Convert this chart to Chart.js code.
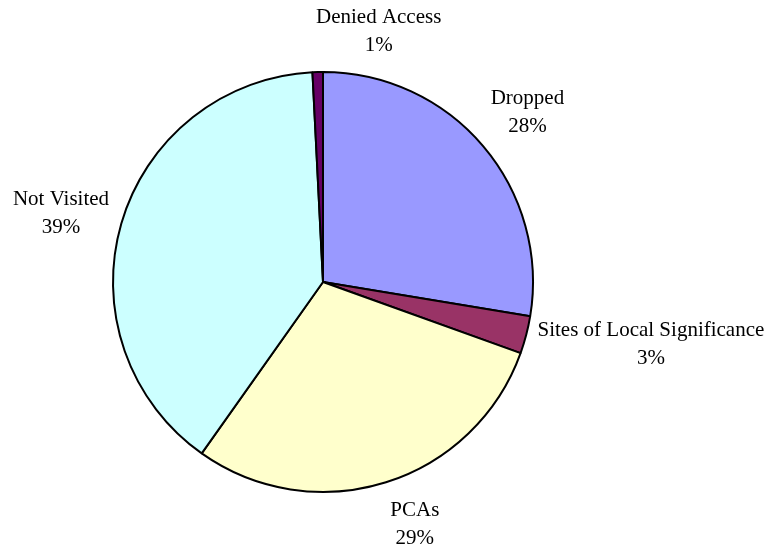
<!DOCTYPE html>
<html>
<head>
<meta charset="utf-8">
<script src="https://cdn.jsdelivr.net/npm/chart.js@4/dist/chart.umd.min.js"></script>
<style>
html,body{margin:0;padding:0;background:#fff;}
canvas{display:block;}
</style>
</head>
<body>
<canvas id="c" width="770" height="544"></canvas>
<script>
const categories = ["Dropped", "Sites of Local Significance", "PCAs", "Not Visited", "Denied Access"];
const shares = [27.6, 2.9, 29.3, 39.4, 0.8];
const sliceColors = ["#9999FF", "#993366", "#FFFFCC", "#CCFFFF", "#660066"];
// label layout nudges (pixels), not data
const labelNudge = [[0, 4], [0, -23], [15, -2], [3, 8], [62, 1]];

const FONT = '21px "Liberation Serif", "Times New Roman", serif';
const LINE_H = 28;

const labelPlugin = {
  id: 'outsideLabels',
  afterDatasetsDraw(chart) {
    const ctx = chart.ctx;
    const meta = chart.getDatasetMeta(0);
    const data = chart.data.datasets[0].data;
    const total = data.reduce((a, b) => a + b, 0);
    ctx.save();
    ctx.font = FONT;
    ctx.fillStyle = '#000';
    ctx.textAlign = 'center';
    ctx.textBaseline = 'middle';
    meta.data.forEach((arc, i) => {
      const p = arc.getProps(['x', 'y', 'startAngle', 'endAngle', 'outerRadius'], true);
      const mid = (p.startAngle + p.endAngle) / 2;
      const dx = Math.cos(mid), dy = Math.sin(mid);
      const l1 = chart.data.labels[i];
      const l2 = Math.round(data[i] / total * 100) + '%';
      const w = Math.max(ctx.measureText(l1).width, ctx.measureText(l2).width);
      const h = LINE_H * 2;
      const dist = p.outerRadius + 12 + Math.abs(dx) * w / 2 + Math.abs(dy) * h / 2;
      const cx = p.x + dist * dx + labelNudge[i][0];
      const cy = p.y + dist * dy + labelNudge[i][1];
      ctx.fillText(l1, cx, cy - LINE_H / 2);
      ctx.fillText(l2, cx, cy + LINE_H / 2);
    });
    ctx.restore();
  }
};

new Chart(document.getElementById('c'), {
  type: 'pie',
  data: {
    labels: categories,
    datasets: [{
      data: shares,
      backgroundColor: sliceColors,
      borderColor: '#000',
      borderWidth: 2
    }]
  },
  options: {
    responsive: false,
    animation: false,
    layout: { padding: { top: 71, bottom: 51, left: 112, right: 236 } },
    plugins: {
      legend: { display: false },
      tooltip: { enabled: false }
    }
  },
  plugins: [labelPlugin]
});
</script>
</body>
</html>
